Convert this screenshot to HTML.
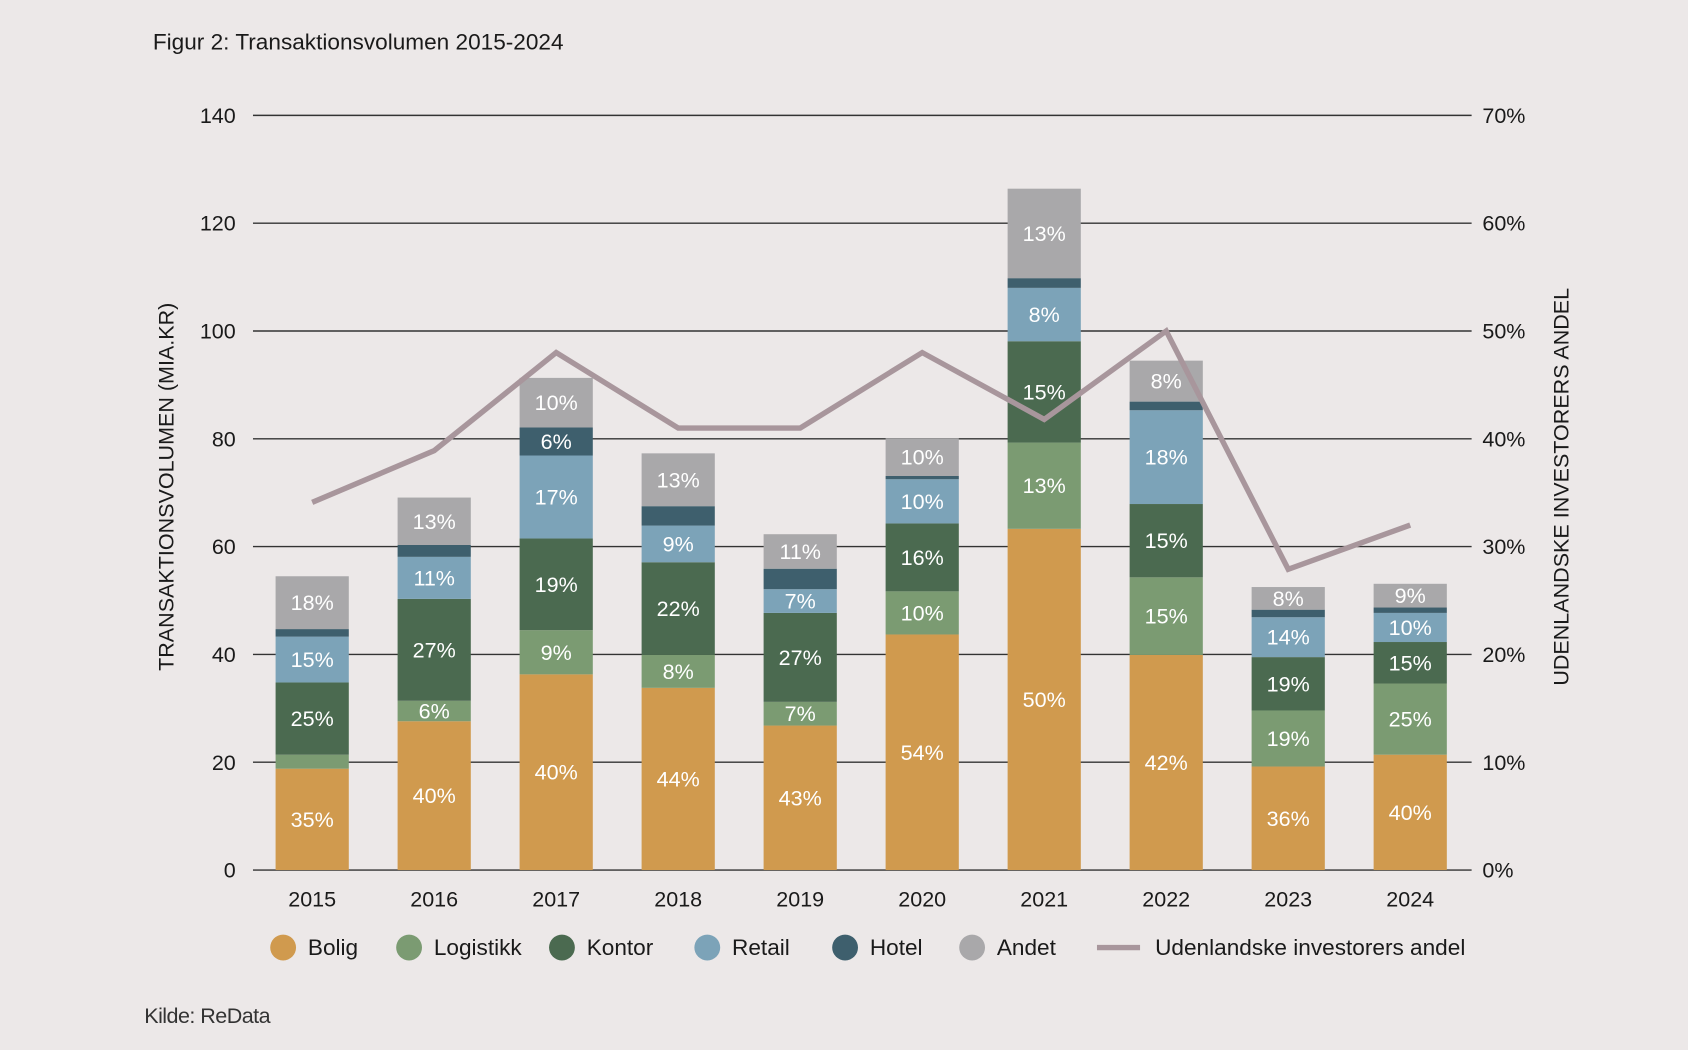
<!DOCTYPE html>
<html><head><meta charset="utf-8"><style>
html,body{margin:0;padding:0;background:#ece8e8;}
svg{display:block;font-family:"Liberation Sans",sans-serif;}
</style></head><body>
<svg id="chart" width="1688" height="1050" viewBox="0 0 1568 975" xmlns="http://www.w3.org/2000/svg">
<rect width="1568" height="975" fill="#ece8e8"/>
<text x="142" y="46" font-size="21" fill="#1a1a1a">Figur 2: Transaktionsvolumen 2015-2024</text>
<text x="134" y="950" font-size="20" fill="#333" letter-spacing="-0.5">Kilde: ReData</text>
<g id="grid"></g><g id="bars"></g><g id="line"></g><g id="axes"></g>
<text transform="translate(161,452) rotate(-90)" text-anchor="middle" font-size="20" fill="#1a1a1a">TRANSAKTIONSVOLUMEN (MIA.KR)</text>
<text transform="translate(1457,452) rotate(-90)" text-anchor="middle" font-size="20" fill="#1a1a1a">UDENLANDSKE INVESTORERS ANDEL</text>
<g id="legend"></g>
</svg>
<script>
const years=["2015","2016","2017","2018","2019","2020","2021","2022","2023","2024"];
const bolig=[18.8,27.6,36.3,33.8,26.8,43.7,63.3,39.9,19.2,21.4];
const logistikk=[2.6,3.8,8.2,6.1,4.4,8.0,16.0,14.4,10.4,13.2];
const kontor=[13.4,18.9,17.0,17.2,16.5,12.6,18.8,13.6,9.9,7.7];
const retail=[8.5,7.8,15.4,6.8,4.4,8.2,9.9,17.4,7.4,5.4];
const hotel=[1.4,2.2,5.2,3.6,3.8,0.6,1.8,1.6,1.4,1.0];
const andet=[9.8,8.8,9.2,9.8,6.4,7.0,16.6,7.6,4.2,4.4];
const boligLbl=["35%","40%","40%","44%","43%","54%","50%","42%","36%","40%"];
const logLbl=["","6%","9%","8%","7%","10%","13%","15%","19%","25%"];
const kontorLbl=["25%","27%","19%","22%","27%","16%","15%","15%","19%","15%"];
const retailLbl=["15%","11%","17%","9%","7%","10%","8%","18%","14%","10%"];
const hotelLbl=["","","6%","","","","","","",""];
const andetLbl=["18%","13%","10%","13%","11%","10%","13%","8%","8%","9%"];
const foreignShare=[34.1,38.9,48.0,41.0,41.0,48.0,41.8,50.0,27.9,32.0];
const leftTicks=[0,20,40,60,80,100,120,140];
const rightTicks=["0%","10%","20%","30%","40%","50%","60%","70%"];

const NS="http://www.w3.org/2000/svg";
const y0=808,yTop=107,yMax=140,x0=235,x1=1367;
const yL=v=>y0-(v/yMax)*(y0-yTop);
const yR=p=>y0-(p/70)*(y0-yTop);
const xC=i=>290+i*113.33;
const bw=68;
function mk(t,a,p){const e=document.createElementNS(NS,t);for(const k in a)e.setAttribute(k,a[k]);p.appendChild(e);return e;}
const grid=document.getElementById('grid'),bars=document.getElementById('bars'),line=document.getElementById('line'),axes=document.getElementById('axes'),legend=document.getElementById('legend');
leftTicks.forEach((t,i)=>{
 const g=mk('line',{x1:x0,x2:x1,y1:yL(t),y2:yL(t),stroke:'#333','stroke-width':1.3},grid);
 
 
 const lt=mk('text',{x:219,y:yL(t)+7,'text-anchor':'end','font-size':20,fill:'#1a1a1a'},axes);lt.textContent=t;
 
 
 const rt=mk('text',{x:1377,y:yL(t)+7,'font-size':20,fill:'#1a1a1a'},axes);rt.textContent=rightTicks[i];
 
 
});
const series=[[bolig,boligLbl,'#d09a4e','bolig'],[logistikk,logLbl,'#7b9b72','logistikk'],[kontor,kontorLbl,'#4b6a50','kontor'],[retail,retailLbl,'#7ca3b8','retail'],[hotel,hotelLbl,'#3e5f6d','hotel'],[andet,andetLbl,'#a9a8aa','andet']];
years.forEach((yr,i)=>{
 let acc=0;
 series.forEach(([vals,lbls,col,nm])=>{
  const a=acc,b=acc+vals[i];acc=b;
  const r=mk('rect',{x:xC(i)-bw/2,y:yL(b),width:bw,height:yL(a)-yL(b),fill:col},bars);
  
  
  if(lbls[i]){const t=mk('text',{x:xC(i),y:(yL(a)+yL(b))/2+7,'text-anchor':'middle','font-size':20,fill:'#fff'},bars);t.textContent=lbls[i];
   
   }
 });
 const xt=mk('text',{x:xC(i),y:842,'text-anchor':'middle','font-size':20,fill:'#1a1a1a'},axes);xt.textContent=yr;
 
 
});
const pl=mk('polyline',{points:foreignShare.map((p,i)=>xC(i)+','+yR(p)).join(' '),fill:'none',stroke:'#a8969c','stroke-width':5,'stroke-linejoin':'miter'},line);


const leg=[['Bolig','#d09a4e',263],['Logistikk','#7b9b72',380],['Kontor','#4b6a50',522],['Retail','#7ca3b8',657],['Hotel','#3e5f6d',785],['Andet','#a9a8aa',903]];
leg.forEach(([n,c,x])=>{
 const g=mk('g',{},legend);
 
 
 mk('circle',{cx:x,cy:880,r:12,fill:c},g);
 const t=mk('text',{x:x+23,y:887,'font-size':21,fill:'#1a1a1a'},g);t.textContent=n;
});
const lg=mk('g',{},legend);


mk('line',{x1:1019,x2:1059,y1:880,y2:880,stroke:'#a8969c','stroke-width':5},lg);
const lt=mk('text',{x:1073,y:887,'font-size':21,fill:'#1a1a1a'},lg);lt.textContent='Udenlandske investorers andel';
</script>
</body></html>
